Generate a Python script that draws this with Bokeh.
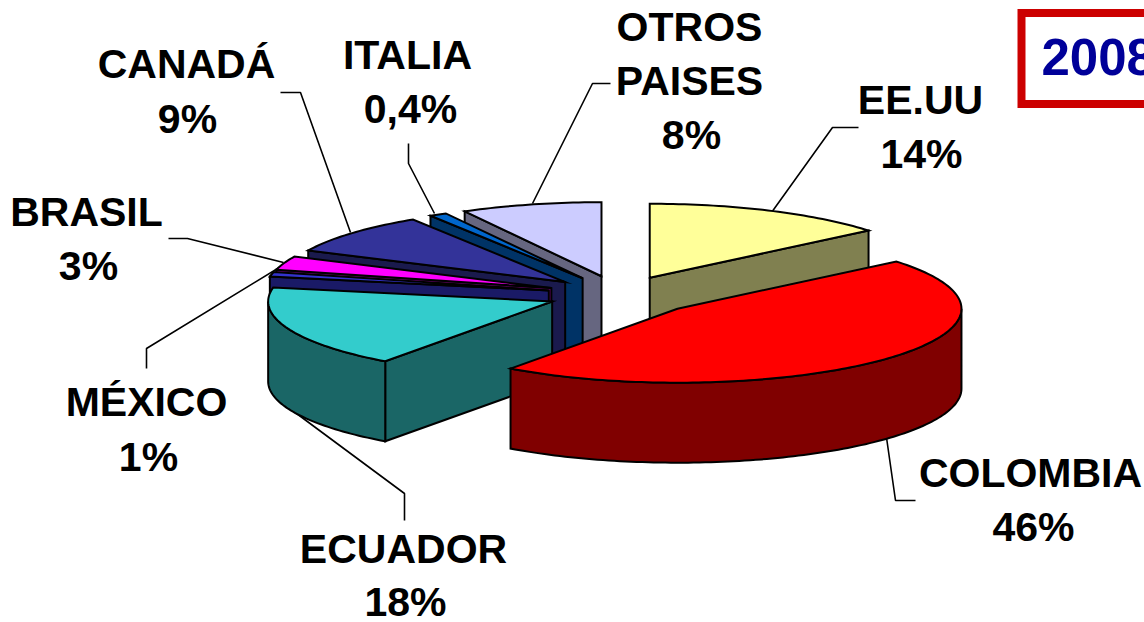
import math
from bokeh.plotting import figure
from bokeh.models import Range1d
from bokeh.core.properties import value
from bokeh.embed import file_html
from bokeh.resources import INLINE

categories = ["EE.UU", "COLOMBIA", "ECUADOR", "MÉXICO", "BRASIL", "CANADÁ", "ITALIA", "OTROS PAISES"]
# shares as drawn in the picture (the Italy wedge is drawn wider than its 0,4% label)
shares = [14, 46, 18, 1, 3, 9, 1, 8]
pct_labels = ["14%", "46%", "18%", "1%", "3%", "9%", "0,4%", "8%"]
top_colors = ["#FFFF99", "#FF0000", "#33CCCC", "#3333CC", "#FF00FF", "#333399", "#0066CC", "#CCCCFF"]
wall_colors = ["#808050", "#800000", "#1A6666", "#1A1A66", "#800080", "#1A1A4D", "#003366", "#666680"]
explode = [0.25, 0.28, 0.255, 0.255, 0.255, 0.255, 0.255, 0.255]
draw_order = [7, 6, 5, 4, 3, 2, 0, 1]

# Projection of the exploded 3-D pie, in page pixels
CX, CY, RX, RY, DEPTH = 619, 294, 284, 74, 80

# Label lines: text, centre x, centre y
label_lines = [
    ("EE.UU", 920, 99), ("14%", 921, 153),
    ("COLOMBIA", 1030, 472), ("46%", 1033, 526),
    ("ECUADOR", 403, 548), ("18%", 405, 601),
    ("MÉXICO", 146, 401), ("1%", 148, 456),
    ("BRASIL", 86, 211), ("3%", 88, 265),
    ("CANADÁ", 186, 63), ("9%", 187, 118),
    ("ITALIA", 407, 54), ("0,4%", 410, 108),
    ("OTROS", 689, 26), ("PAISES", 689, 80), ("8%", 691, 134),
]
leader_xs = [[858, 832, 771], [915, 895, 886], [404, 404, 292], [146, 146, 282],
             [168, 187, 283], [280, 300, 350], [408, 408, 434], [610, 592, 532]]
leader_ys = [[127, 127, 212], [500, 500, 437], [520, 493, 410], [368, 348, 265],
             [238, 238, 262], [92, 92, 232], [143, 163, 213], [83, 83, 203]]

p = figure(width=1144, height=622, output_backend="svg", toolbar_location=None,
           x_range=Range1d(0, 1144), y_range=Range1d(622, 0),
           min_border=0, outline_line_color=None, background_fill_color="white")
p.axis.visible = False
p.grid.visible = False

total = sum(shares)
angles = [0.0]
for s in shares:
    angles.append(angles[-1] + s / total * 2 * math.pi)


def rim(cx, cy, t, dy=0.0):
    return cx + RX * math.sin(t), cy - RY * math.cos(t) + dy


# leaders below the pie
p.multi_line(leader_xs, leader_ys, line_color="black", line_width=1.6)

for i in draw_order:
    a0, a1 = angles[i], angles[i + 1]
    mid = (a0 + a1) / 2
    cx = CX + explode[i] * RX * math.sin(mid)
    cy = CY - explode[i] * RY * math.cos(mid)
    steps = max(3, int((a1 - a0) / 0.02))
    ts = [a0 + (a1 - a0) * k / steps for k in range(steps + 1)]
    arc = [rim(cx, cy, t) for t in ts]

    # flat radial faces, only those turned towards the viewer
    faces = []
    if math.sin(a0) < 0:
        faces.append(arc[0])
    if math.sin(a1) > 0:
        faces.append(arc[-1])
    for x, y in faces:
        p.patch([cx, x, x, cx], [cy, y, y + DEPTH, cy + DEPTH],
                fill_color=wall_colors[i], line_color="black", line_width=2, line_join="miter")
    # outer wall, only where it faces the viewer
    lo, hi = max(a0, math.pi / 2), min(a1, 3 * math.pi / 2)
    if hi > lo:
        n = max(3, int((hi - lo) / 0.02))
        wt = [lo + (hi - lo) * k / n for k in range(n + 1)]
        upper = [rim(cx, cy, t) for t in wt]
        lower = [rim(cx, cy, t, DEPTH) for t in reversed(wt)]
        pts = upper + lower
        p.patch([q[0] for q in pts], [q[1] for q in pts],
                fill_color=wall_colors[i], line_color="black", line_width=2, line_join="miter")
    # top face
    p.patch([cx] + [q[0] for q in arc], [cy] + [q[1] for q in arc],
            fill_color=top_colors[i], line_color="black", line_width=2, line_join="miter")

p.text(x=[t[1] for t in label_lines], y=[t[2] for t in label_lines],
       text=[t[0] for t in label_lines], text_font=value("Liberation Sans"),
       text_font_style="bold", text_font_size="41px", text_color="black",
       text_align="center", text_baseline="middle")

# year box, running off the right edge
p.quad(left=[1021], right=[1160], top=[12.5], bottom=[103.5], fill_color="white",
       line_color="#CC0000", line_width=8, line_join="miter")
p.text(x=[1041], y=[56], text=["2008"], text_font=value("Liberation Sans"),
       text_font_style="bold", text_font_size="51px", text_color="#000099",
       text_align="left", text_baseline="middle")

open("out.html", "w").write(file_html(p, INLINE))
